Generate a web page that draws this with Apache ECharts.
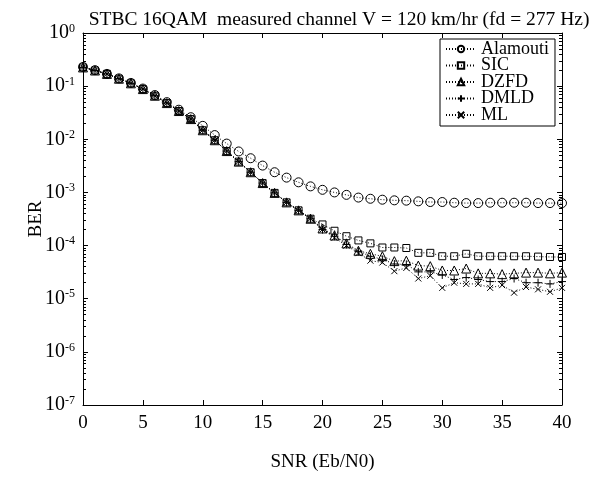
<!DOCTYPE html>
<html>
<head>
<meta charset="utf-8">
<script src="https://cdn.jsdelivr.net/npm/echarts@6/dist/echarts.min.js"></script>
<style>html,body{margin:0;padding:0;background:#fff}#c{width:594px;height:477px}</style>
</head>
<body>
<div id="c"></div>
<script>
const snr = [0,1,2,3,4,5,6,7,8,9,10,11,12,13,14,15,16,17,18,19,20,21,22,23,24,25,26,27,28,29,30,31,32,33,34,35,36,37,38,39,40];
const alamouti = [0.23,0.20,0.17,0.14,0.115,0.09,0.068,0.05,0.036,0.026,0.0179,0.012,0.0083,0.0059,0.0044,0.0032,0.0024,0.0019,0.00155,0.0013,0.00112,0.001,0.0009,0.0008,0.00076,0.00073,0.00071,0.0007,0.00068,0.00066,0.00066,0.00064,0.00063,0.00063,0.00064,0.00064,0.00064,0.00064,0.00063,0.00063,0.00063];
const sic = [0.225,0.197,0.17,0.138,0.113,0.088,0.066,0.048,0.034,0.024,0.0148,0.0096,0.006,0.0038,0.0024,0.0015,0.00098,0.00065,0.00046,0.00032,0.00025,0.00019,0.00015,0.000125,0.00011,0.000092,0.000092,0.00009,0.000073,0.000073,0.000063,0.000063,0.00007,0.000063,0.000063,0.000063,0.000063,0.000063,0.000062,0.000061,0.000061];
const dzfd = [0.225,0.197,0.17,0.138,0.113,0.088,0.066,0.048,0.034,0.024,0.0148,0.0096,0.006,0.0038,0.0024,0.0015,0.00098,0.00065,0.00046,0.00032,0.00021,0.000155,0.00011,0.00008,0.00007,0.000063,0.000051,0.000052,0.000042,0.000041,0.000034,0.000034,0.000037,0.00003,0.00003,0.000029,0.00003,0.000031,0.000031,0.00003,0.000031];
const dmld = [0.225,0.197,0.17,0.138,0.113,0.088,0.066,0.048,0.034,0.024,0.0148,0.0096,0.006,0.0038,0.0024,0.0015,0.00098,0.00065,0.00046,0.00032,0.0002,0.00015,0.000105,0.000078,0.000063,0.000055,0.000045,0.000044,0.000032,0.000032,0.000028,0.000023,0.000025,0.000023,0.000021,0.000021,0.000024,0.00002,0.00002,0.000019,0.000021];
const ml = [0.225,0.197,0.17,0.138,0.113,0.088,0.066,0.048,0.034,0.024,0.0148,0.0096,0.006,0.0038,0.0024,0.0015,0.00098,0.00065,0.00046,0.00032,0.0002,0.00014,0.0001,0.000072,0.000052,0.000048,0.000033,0.000038,0.000024,0.000027,0.000016,0.00002,0.000019,0.000019,0.000016,0.000018,0.000013,0.0000166,0.000015,0.0000135,0.000016];
const seriesNames = ['Alamouti','SIC','DZFD','DMLD','ML'];
const titleText = 'STBC 16QAM  measured channel V = 120 km/hr (fd = 277 Hz)';
const xName = 'SNR (Eb/N0)';
const yName = 'BER';

const FONT = '"Liberation Serif", "DejaVu Serif", serif';
const symbols = {
  'Alamouti': {symbol:'circle', size:9},
  'SIC': {symbol:'rect', size:7},
  'DZFD': {symbol:'triangle', size:9},
  'DMLD': {symbol:'path://M5,0L5,10M0,5L10,5', size:8},
  'ML': {symbol:'path://M0,0L10,10M0,10L10,0', size:6}
};
const dataSets = [alamouti, sic, dzfd, dmld, ml];

const chart = echarts.init(document.getElementById('c'), null, {renderer:'canvas'});
const logLabel = v => {
  const e = Math.round(Math.log10(v));
  return '{b|10}{s|' + e + '}';
};
const axisBase = {
  axisLine:{show:true, onZero:false, lineStyle:{color:'#000', width:1}},
  axisTick:{show:true, inside:true, length:5, lineStyle:{color:'#000'}},
  splitLine:{show:false}
};
chart.setOption({
  animation:false,
  backgroundColor:'#fff',
  title:{text:titleText, left:334, textAlign:'center', top:5,
    textStyle:{fontFamily:FONT, fontSize:19.5, fontWeight:'normal', color:'#000'}},
  grid:{left:83, right:32, top:33, bottom:69, containLabel:false},
  legend:{
    orient:'vertical', left:440, top:39,
    backgroundColor:'#fff', borderColor:'#000', borderWidth:1,
    padding:[1,6,2,5], itemGap:-1.5, itemWidth:30, itemHeight:8,
    textStyle:{fontFamily:FONT, fontSize:18, color:'#000'},
    data:seriesNames
  },
  xAxis:[
    Object.assign({type:'value', min:0, max:40, interval:5, position:'bottom',
      name:xName, nameLocation:'middle', nameGap:48, nameMoveOverlap:false,
      nameTextStyle:{fontFamily:FONT, fontSize:19, color:'#000'},
      axisLabel:{fontFamily:FONT, fontSize:19, color:'#000', margin:9}}, axisBase),
    Object.assign({type:'value', min:0, max:40, interval:5, position:'top',
      axisLabel:{show:false}}, axisBase)
  ],
  yAxis:[
    Object.assign({type:'log', logBase:10, min:1e-7, max:1, position:'left',
      name:yName, nameLocation:'middle', nameGap:37, nameMoveOverlap:false,
      nameTextStyle:{fontFamily:FONT, fontSize:19, color:'#000'},
      minorTick:{show:true, splitNumber:9, length:3, lineStyle:{color:'#000'}},
      axisLabel:{formatter:logLabel, margin:8, rich:{
        b:{fontFamily:FONT, fontSize:20, color:'#000'},
        s:{fontFamily:FONT, fontSize:12, color:'#000', verticalAlign:'top', padding:[0,0,9,0]}
      }}}, axisBase),
    Object.assign({type:'log', logBase:10, min:1e-7, max:1, position:'right',
      minorTick:{show:true, splitNumber:9, length:3, lineStyle:{color:'#000'}},
      axisLabel:{show:false}}, axisBase)
  ],
  series: seriesNames.map((n,i) => ({
    name:n, type:'line', xAxisIndex:0, yAxisIndex:0,
    data: snr.map((x,j) => [x, dataSets[i][j]]),
    symbol:symbols[n].symbol, symbolSize:symbols[n].size, showAllSymbol:true,
    lineStyle:{color:'#000', width:1, type:[1,2]},
    itemStyle:{color:'none', borderColor:'#000', borderWidth:1},
    emphasis:{disabled:true}
  }))
});
</script>
</body>
</html>
